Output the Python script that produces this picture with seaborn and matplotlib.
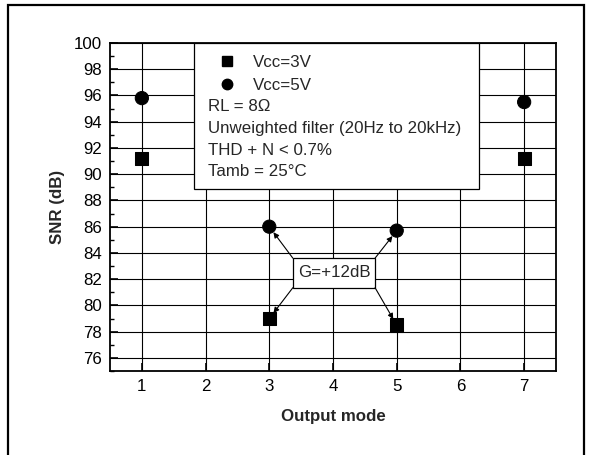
import pandas as pd
import matplotlib
matplotlib.use("Agg")
import matplotlib.pyplot as plt
import seaborn as sns
from matplotlib.lines import Line2D
from matplotlib.patches import Rectangle
from matplotlib.ticker import MultipleLocator

# values
modes = [1, 3, 5, 7]
snr_3v = [91.2, 79.0, 78.5, 91.2]
snr_5v = [95.8, 86.0, 85.7, 95.5]
series_labels = ["Vcc=3V", "Vcc=5V"]
notes = ["RL = 8\u03a9", "Unweighted filter (20Hz to 20kHz)",
         "THD + N < 0.7%", "Tamb = 25\u00b0C"]
gain_label = "G=+12dB"

df = pd.DataFrame({
    "mode": modes * 2,
    "snr": snr_3v + snr_5v,
    "vcc": [series_labels[0]] * len(modes) + [series_labels[1]] * len(modes),
})

sns.set_style("white")
plt.rcParams["font.family"] = ["Liberation Sans", "DejaVu Sans"]
FS = 12.2

fig = plt.figure(figsize=(5.89, 4.55), dpi=100)
ax = fig.add_axes([110 / 589, 1 - 371 / 455, 446 / 589, 328 / 455])

ax.set_xlim(0.5, 7.5)
ax.set_ylim(75, 100)
ax.xaxis.set_major_locator(MultipleLocator(1))
ax.yaxis.set_minor_locator(MultipleLocator(1))
ax.set_yticks(range(76, 101, 2))
ax.grid(True, which="major", color="black", linewidth=0.8)
ax.set_axisbelow(True)
ax.tick_params(which="both", direction="in", color="black", labelcolor="black",
               labelsize=FS, right=False, top=False, left=True, bottom=True)
ax.tick_params(which="major", length=6, width=1.2, pad=5.5)
ax.tick_params(which="minor", length=3, width=1.0)
ax.tick_params(axis="x", which="minor", bottom=False)
for sp in ax.spines.values():
    sp.set_color("black")
    sp.set_linewidth(1.3)

sns.scatterplot(data=df, x="mode", y="snr", style="vcc",
                markers={"Vcc=3V": "s", "Vcc=5V": "o"}, color="black",
                s=90, edgecolor="black", legend=False, ax=ax, zorder=5)

ax.set_xlabel("Output mode", fontweight="bold", fontsize=FS, labelpad=11)
ax.set_ylabel("SNR (dB)", fontweight="bold", fontsize=FS, labelpad=7)

# info box covering the upper middle of the grid
ax.add_patch(Rectangle((0.188, 0.554), 0.639, 0.446, transform=ax.transAxes,
                       facecolor="white", edgecolor="black", linewidth=0.9, zorder=3))
handles = [Line2D([], [], marker="s", color="black", linestyle="", markersize=6.5),
           Line2D([], [], marker="o", color="black", linestyle="", markersize=7.5)]
leg = ax.legend(handles, series_labels, loc="center left", bbox_to_anchor=(0.246, 0.905),
                frameon=False, borderpad=0, borderaxespad=0, handlelength=0.9,
                handletextpad=1.05, labelspacing=0.45, fontsize=FS)
leg.set_zorder(6)
for i, line in enumerate(notes):
    ax.text(0.22, 0.805 - i * 0.066, line, transform=ax.transAxes, va="center",
            ha="left", fontsize=FS, zorder=6)

# gain callout with arrows to the mode 3 and 5 points
bx0, bx1, by0, by1 = 3.37, 4.66, 81.35, 83.6
ax.add_patch(Rectangle((bx0, by0), bx1 - bx0, by1 - by0, facecolor="white",
                       edgecolor="black", linewidth=0.9, zorder=6))
ax.text((bx0 + bx1) / 2, (by0 + by1) / 2, gain_label, ha="center", va="center",
        fontsize=FS, zorder=7)
arrow = dict(arrowstyle="-|>", color="black", lw=0.8, shrinkA=0, shrinkB=5,
             mutation_scale=8)
ax.annotate("", xy=(modes[1], snr_5v[1]), xytext=(bx0, by1), arrowprops=arrow, zorder=6)
ax.annotate("", xy=(modes[1], snr_3v[1]), xytext=(bx0, by0), arrowprops=arrow, zorder=6)
ax.annotate("", xy=(modes[2], snr_5v[2]), xytext=(bx1, by1), arrowprops=arrow, zorder=6)
ax.annotate("", xy=(modes[2], snr_3v[2]), xytext=(bx1, by0), arrowprops=arrow, zorder=6)

# outer frame of the figure (bottom edge cropped off)
fig.patches.append(Rectangle((8 / 589, -0.1), 576 / 589, 1.1 - 5 / 455,
                             transform=fig.transFigure, fill=False,
                             edgecolor="black", linewidth=1.6))

fig.savefig("out.png", dpi=100)
